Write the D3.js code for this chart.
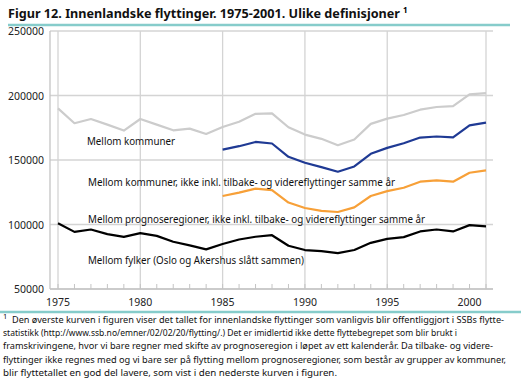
<!DOCTYPE html>
<html><head><meta charset="utf-8">
<script src="https://cdn.jsdelivr.net/npm/d3@7"></script>
<style>body{margin:0;background:#fff}svg{display:block;font-family:"Noto Sans",sans-serif}</style>
</head><body>
<script>
const years = d3.range(1975, 2002);
const yearsB = d3.range(1985, 2002);
const mellomKommuner = [190000,178500,181800,177400,172800,181800,177400,173000,174300,170200,175600,179700,185800,186200,175400,169700,166400,161500,165900,178000,182100,184900,189000,191100,191800,200800,201900];
const kommunerIkkeTilbake = [158100,160700,164000,162800,152500,147900,144500,140900,145000,154800,159400,163000,167400,168200,167600,176900,179000];
const kommunerIkkeTilbakeOrange = [122100,124700,127800,126700,117000,112800,110500,109700,113300,122100,125900,128500,133200,134200,133200,140100,141900];
const fylker = [101000,94300,96100,92500,90400,93300,91200,86600,83800,80700,84900,88400,90500,91700,83500,80200,79400,77800,80200,85800,88900,90200,94600,96100,94600,99500,98500];
const yTicks = [50000,100000,150000,200000,250000];
const xLabels = [1975,1980,1985,1990,1995,2000];
const gridYears = [1975,1980,1985,1990,1995,2001];
const title = "Figur 12. Innenlandske flyttinger. 1975-2001. Ulike definisjoner";
const seriesLabels = [
  "Mellom kommuner",
  "Mellom kommuner, ikke inkl. tilbake- og videreflyttinger samme år",
  "Mellom prognoseregioner, ikke inkl. tilbake- og videreflyttinger samme år",
  "Mellom fylker (Oslo og Akershus slått sammen)"
];
const footnote = [
  "Den øverste kurven i figuren viser det tallet for innenlandske flyttinger som vanligvis blir offentliggjort i SSBs flytte-",
  "statistikk (http://www.ssb.no/emner/02/02/20/flytting/.) Det er imidlertid ikke dette flyttebegrepet som blir brukt i",
  "framskrivingene, hvor vi bare regner med skifte av prognoseregion i løpet av ett kalenderår. Da tilbake- og videre-",
  "flyttinger ikke regnes med og vi bare ser på flytting mellom prognoseregioner, som består av grupper av kommuner,",
  "blir flyttetallet en god del lavere, som vist i den nederste kurven i figuren."
];

const W = 521, H = 381;
const svg = d3.select("body").append("svg").attr("width", W).attr("height", H);
const x = d3.scaleLinear().domain([1975, 2001]).range([58, 486]);
const y = d3.scaleLinear().domain([50000, 250000]).range([289, 31]);
const left = 50, right = 493;

// title
svg.append("text").attr("x", 8).attr("y", 18).attr("font-weight", "bold")
  .attr("font-size", 12.5).attr("fill", "#111")
  .attr("textLength", 392).attr("lengthAdjust", "spacingAndGlyphs").text(title);
svg.append("text").attr("x", 403).attr("y", 13).attr("font-weight", "bold").attr("font-size", 8).text("1");
svg.append("line").attr("x1", 8).attr("x2", 510).attr("y1", 25).attr("y2", 25)
  .attr("stroke", "#86cccb").attr("stroke-width", 2.5);

// grid
const grid = svg.append("g");
grid.selectAll(".hg").data(yTicks).join("line")
  .attr("x1", left).attr("x2", right).attr("y1", d => y(d)).attr("y2", d => y(d))
  .attr("stroke", "#d4d4d4").attr("stroke-width", 1.3);
grid.selectAll(".vg").data(gridYears).join("line")
  .attr("x1", d => x(d)).attr("x2", d => x(d)).attr("y1", y(250000)).attr("y2", y(50000))
  .attr("stroke", "#d4d4d4").attr("stroke-width", 1.3);
svg.append("line").attr("x1", left).attr("x2", left).attr("y1", y(250000)).attr("y2", y(50000))
  .attr("stroke", "#c4c4c4").attr("stroke-width", 1.3);
svg.append("line").attr("x1", left).attr("x2", right).attr("y1", y(50000)).attr("y2", y(50000))
  .attr("stroke", "#c4c4c4").attr("stroke-width", 1.3);
svg.selectAll(".tk").data(years).join("line")
  .attr("x1", d => x(d)).attr("x2", d => x(d)).attr("y1", y(50000) - 5).attr("y2", y(50000))
  .attr("stroke", "#c4c4c4").attr("stroke-width", 1);

// axis labels
svg.selectAll(".yl").data(yTicks).join("text")
  .attr("x", 44).attr("y", d => y(d) + 4).attr("text-anchor", "end")
  .attr("font-size", 10.5).attr("fill", "#222").text(d => d);
svg.selectAll(".xl").data(xLabels).join("text")
  .attr("x", d => x(d)).attr("y", 306).attr("text-anchor", "middle")
  .attr("font-size", 10.5).attr("fill", "#222").text(d => d);

// lines
const line = d3.line().x(d => x(d[0])).y(d => y(d[1]));
const series = [
  {yrs: years, vals: mellomKommuner, color: "#cccccc"},
  {yrs: yearsB, vals: kommunerIkkeTilbake, color: "#1f3a94"},
  {yrs: yearsB, vals: kommunerIkkeTilbakeOrange, color: "#f7a038"},
  {yrs: years, vals: fylker, color: "#000000"}
];
series.forEach(s => {
  svg.append("path").datum(s.yrs.map((yr, i) => [yr, s.vals[i]]))
    .attr("d", line).attr("fill", "none").attr("stroke", s.color)
    .attr("stroke-width", 2.2).attr("stroke-linejoin", "round");
});

// series labels
const labPos = [[87, 144.5, 88], [88, 186, 307], [88, 223, 337], [88, 264, 216]];
seriesLabels.forEach((s, i) => {
  svg.append("text").attr("x", labPos[i][0]).attr("y", labPos[i][1])
    .attr("font-size", 11.5).attr("fill", "#111")
    .attr("textLength", labPos[i][2]).attr("lengthAdjust", "spacingAndGlyphs").text(s);
});

// footnote
svg.append("line").attr("x1", 0).attr("x2", 521).attr("y1", 312).attr("y2", 312)
  .attr("stroke", "#86cccb").attr("stroke-width", 2.5);
svg.append("text").attr("x", 3).attr("y", 319).attr("font-size", 7.5).attr("fill", "#111").text("1");
const fnStart = [12, 3, 3, 3, 3];
const fnLen = [492, 454, 490, 503, 334];
footnote.forEach((s, i) => {
  svg.append("text").attr("x", fnStart[i]).attr("y", 323 + i * 13.2)
    .attr("font-size", 9.2).attr("fill", "#111")
    .attr("textLength", fnLen[i]).attr("lengthAdjust", "spacingAndGlyphs").text(s);
});
</script>
</body></html>
